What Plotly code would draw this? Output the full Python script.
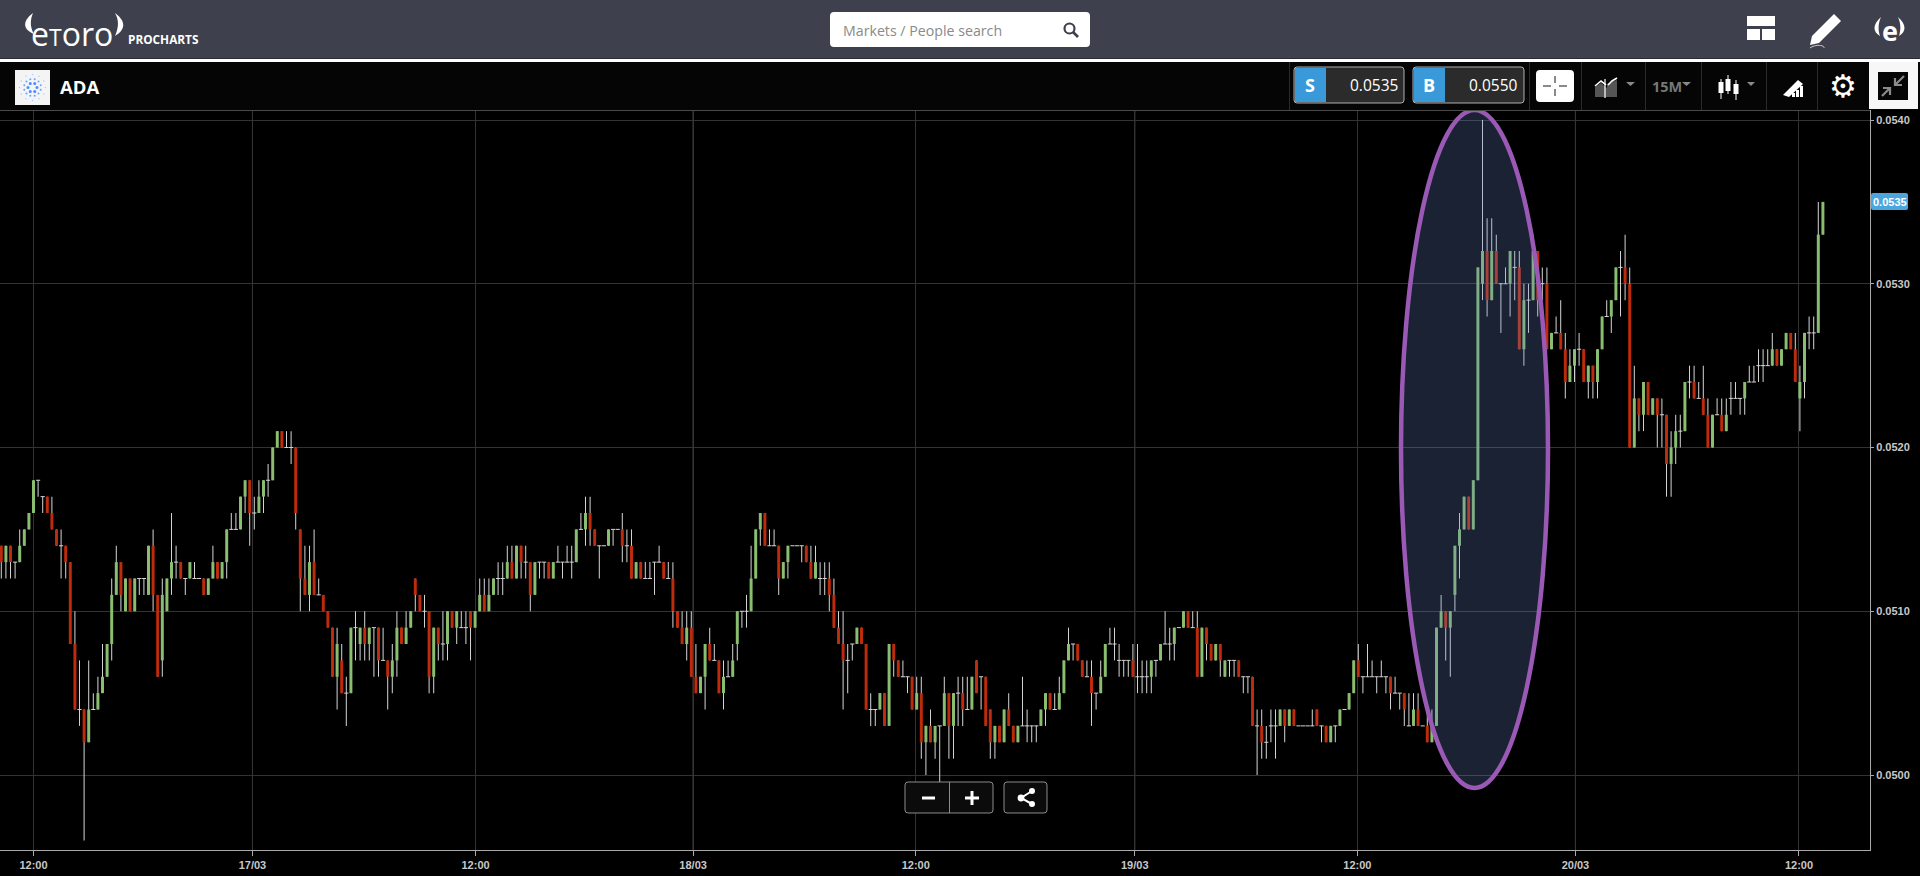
import math
import re

import plotly.graph_objects as go

WIDTH = 1920
HEIGHT = 876

# candle prices, in 1/10000 of a dollar, one per 15 minute bar
open_vals = [
    514, 513, 514, 513, 513, 514, 515,
    516, 518, 517, 517, 516, 515, 514, 514, 513, 508,
    504, 504, 502, 504, 504, 505, 506, 508, 511, 513,
    510, 512, 510, 512, 512, 511, 514, 511, 507, 510,
    512, 513, 513, 512, 512, 512, 512, 512, 511, 512,
    513, 512, 513, 515, 515, 515, 517, 518, 516, 516,
    517, 518, 518, 520, 521, 520, 520, 520, 515, 512,
    511, 513, 511, 511, 510, 509, 506, 507, 505, 505,
    509, 508, 509, 508, 509, 509, 507, 507, 506, 507,
    509, 508, 509, 512, 511, 510, 510, 506, 509, 508,
    508, 510, 509, 509, 509, 510, 509, 510, 511, 510,
    511, 512, 512, 512, 513, 512, 514, 513, 513, 511,
    513, 513, 513, 512, 513, 513, 513, 513, 513, 515,
    515, 516, 515, 514, 514, 514, 515, 515, 515, 514,
    514, 512, 513, 512, 512, 513, 513, 513, 512, 512,
    510, 509, 508, 509, 506, 505, 506, 508, 507, 507,
    505, 506, 506, 508, 510, 510, 510, 512, 515, 516,
    514, 514, 514, 512, 513, 514, 514, 514, 514, 513,
    512, 512, 512, 512, 511, 509, 508, 507, 508, 508,
    509, 508, 504, 504, 504, 505, 503, 508, 507, 506,
    506, 506, 504, 505, 502, 503, 502, 503, 503, 505,
    503, 505, 505, 504, 504, 507, 506, 506, 504, 502,
    503, 502, 504, 503, 502, 503, 503, 503, 503, 503,
    504, 505, 504, 504, 505, 507, 508, 508, 507, 506,
    506, 505, 505, 506, 508, 508, 507, 507, 507, 507,
    506, 506, 506, 506, 507, 507, 508, 508, 508, 509,
    509, 510, 509, 509, 506, 509, 508, 507, 508, 506,
    507, 507, 507, 506, 506, 506, 503, 503, 502, 503,
    503, 503, 504, 503, 504, 503, 503, 503, 503, 504,
    503, 503, 502, 503, 503, 504, 504, 505, 507, 506,
    506, 506, 506, 506, 506, 506, 505, 505, 505, 503,
    503, 504, 503, 503, 502, 503, 509, 510, 509, 511,
    514, 515, 517, 515, 518, 530, 532, 529, 532, 530,
    530, 530, 531, 531, 526, 529, 529, 532, 530, 530,
    526, 527, 527, 526, 524, 525, 526, 526, 524, 525,
    524, 526, 528, 528, 529, 531, 531, 530, 520, 523,
    522, 524, 522, 523, 522, 522, 519, 520, 521, 521,
    524, 524, 523, 523, 522, 520, 522, 522, 521, 523,
    523, 523, 523, 524, 524, 525, 525, 525, 525, 526,
    525, 526, 527, 526, 523, 524, 527, 527, 527, 533,
]
close_vals = [
    513, 514, 513, 513, 514, 515, 516,
    518, 518, 517, 516, 515, 514, 514, 513, 508, 504,
    504, 502, 504, 504, 505, 506, 508, 511, 513, 511,
    512, 510, 512, 512, 512, 514, 511, 506, 511, 512,
    513, 513, 512, 512, 513, 512, 512, 511, 512, 513,
    512, 513, 515, 515, 515, 517, 518, 516, 516, 517,
    518, 518, 520, 521, 520, 520, 520, 516, 512, 511,
    513, 511, 511, 510, 509, 506, 508, 505, 505, 509,
    509, 509, 508, 509, 509, 507, 507, 506, 507, 509,
    508, 509, 510, 511, 510, 510, 506, 509, 508, 508,
    510, 509, 510, 509, 509, 509, 510, 511, 510, 511,
    512, 512, 512, 513, 512, 514, 513, 513, 511, 513,
    513, 513, 512, 513, 513, 513, 513, 513, 515, 515,
    516, 515, 514, 514, 514, 515, 515, 515, 514, 514,
    512, 513, 512, 512, 512, 513, 513, 512, 512, 510,
    509, 508, 509, 506, 505, 506, 508, 507, 507, 505,
    506, 506, 507, 510, 510, 510, 512, 515, 516, 514,
    514, 514, 512, 513, 514, 514, 514, 514, 513, 512,
    513, 512, 512, 511, 509, 508, 507, 507, 508, 509,
    508, 504, 504, 504, 505, 503, 508, 507, 506, 506,
    506, 504, 505, 502, 503, 502, 503, 503, 505, 503,
    505, 505, 504, 504, 506, 505, 506, 503, 502, 503,
    502, 504, 503, 502, 503, 503, 503, 503, 503, 504,
    505, 504, 504, 505, 507, 508, 508, 507, 506, 506,
    505, 505, 506, 508, 508, 508, 507, 507, 507, 506,
    506, 506, 506, 507, 507, 508, 508, 508, 509, 509,
    510, 509, 509, 506, 509, 508, 507, 508, 507, 507,
    507, 507, 506, 506, 506, 503, 503, 502, 502, 503,
    503, 504, 503, 504, 503, 503, 503, 503, 503, 503,
    503, 502, 503, 503, 504, 504, 505, 507, 506, 506,
    506, 506, 506, 506, 506, 505, 505, 505, 504, 503,
    504, 503, 503, 502, 503, 509, 510, 509, 510, 514,
    515, 517, 515, 518, 531, 532, 529, 532, 530, 530,
    530, 532, 531, 526, 529, 529, 532, 529, 530, 526,
    527, 527, 526, 524, 525, 526, 526, 524, 525, 524,
    526, 528, 528, 529, 531, 531, 530, 520, 523, 522,
    524, 522, 523, 522, 522, 519, 520, 521, 521, 524,
    524, 523, 523, 522, 520, 522, 522, 521, 522, 523,
    523, 523, 524, 524, 524, 525, 525, 525, 526, 525,
    526, 527, 526, 524, 524, 527, 527, 527, 533, 535,
]
high_vals = [
    514, 514, 514, 513, 515, 515, 516,
    518, 518, 517, 517, 517, 515, 515, 514, 513, 510,
    507, 504, 507, 505, 506, 508, 508, 512, 514, 513,
    512, 512, 512, 512, 512, 514, 515, 511, 512, 512,
    516, 514, 513, 512, 513, 513, 512, 512, 512, 514,
    513, 513, 515, 516, 516, 517, 518, 518, 517, 518,
    518, 519, 520, 521, 521, 521, 521, 520, 515, 514,
    514, 515, 512, 511, 510, 509, 509, 508, 506, 509,
    510, 509, 510, 509, 509, 509, 509, 507, 508, 510,
    509, 510, 510, 512, 511, 511, 510, 509, 509, 510,
    510, 510, 510, 510, 510, 510, 510, 512, 512, 512,
    512, 513, 513, 514, 514, 514, 514, 514, 513, 513,
    513, 513, 513, 513, 514, 513, 514, 514, 515, 516,
    517, 517, 515, 514, 514, 515, 515, 515, 516, 515,
    515, 513, 513, 513, 513, 513, 514, 513, 513, 513,
    510, 510, 510, 510, 508, 506, 508, 509, 508, 507,
    507, 507, 508, 510, 510, 511, 514, 515, 516, 516,
    515, 515, 514, 513, 514, 514, 514, 514, 514, 514,
    514, 513, 513, 513, 512, 510, 510, 508, 508, 509,
    509, 508, 505, 504, 505, 505, 508, 508, 507, 507,
    506, 506, 506, 506, 503, 504, 503, 503, 506, 505,
    505, 506, 506, 506, 506, 507, 506, 506, 504, 503,
    503, 504, 505, 503, 503, 506, 504, 503, 503, 504,
    505, 505, 505, 506, 507, 509, 508, 508, 507, 507,
    507, 505, 507, 508, 509, 509, 508, 507, 507, 508,
    508, 507, 507, 507, 507, 508, 510, 509, 509, 509,
    510, 510, 510, 510, 509, 509, 508, 508, 508, 507,
    507, 507, 507, 506, 506, 506, 504, 504, 503, 504,
    504, 504, 504, 504, 504, 503, 503, 503, 504, 504,
    503, 503, 503, 503, 504, 504, 505, 507, 508, 506,
    508, 507, 506, 507, 506, 506, 506, 505, 505, 505,
    505, 505, 503, 504, 504, 509, 511, 510, 510, 514,
    516, 517, 517, 518, 531, 540, 534, 534, 533, 530,
    531, 532, 532, 532, 530, 530, 533, 532, 531, 531,
    527, 528, 529, 527, 526, 526, 527, 526, 525, 525,
    526, 528, 529, 529, 531, 532, 533, 531, 525, 523,
    524, 524, 523, 523, 523, 522, 521, 522, 522, 524,
    525, 525, 524, 525, 523, 522, 523, 523, 523, 524,
    524, 523, 524, 525, 525, 526, 526, 526, 527, 526,
    526, 527, 527, 527, 525, 527, 528, 528, 535, 535,
]
low_vals = [
    512, 512, 512, 512, 513, 514, 515,
    516, 517, 516, 516, 515, 514, 512, 512, 508, 504,
    503, 496, 502, 504, 504, 505, 506, 507, 511, 510,
    510, 510, 510, 511, 511, 511, 510, 506, 506, 510,
    511, 512, 512, 511, 512, 512, 512, 511, 511, 512,
    512, 512, 512, 515, 515, 515, 516, 514, 515, 516,
    516, 517, 518, 520, 520, 520, 519, 515, 510, 511,
    510, 511, 511, 510, 509, 506, 504, 505, 503, 505,
    507, 507, 507, 507, 506, 506, 507, 504, 505, 506,
    508, 508, 509, 510, 510, 509, 505, 505, 507, 507,
    507, 509, 508, 509, 508, 507, 509, 510, 510, 510,
    511, 511, 511, 512, 512, 512, 512, 512, 510, 511,
    512, 512, 512, 512, 513, 512, 513, 512, 513, 515,
    514, 514, 514, 512, 514, 514, 514, 515, 513, 513,
    512, 512, 512, 512, 512, 511, 513, 512, 512, 509,
    509, 508, 507, 506, 505, 505, 504, 507, 507, 505,
    504, 506, 506, 507, 509, 509, 510, 512, 514, 514,
    514, 514, 511, 512, 512, 514, 514, 513, 513, 512,
    512, 511, 511, 510, 509, 508, 504, 505, 507, 508,
    508, 504, 503, 503, 504, 503, 503, 506, 506, 506,
    505, 504, 504, 501, 500, 502, 501, 499, 503, 501,
    501, 503, 503, 504, 504, 505, 504, 503, 501, 501,
    502, 502, 503, 502, 502, 503, 502, 502, 502, 503,
    503, 504, 504, 504, 505, 507, 507, 507, 506, 506,
    503, 504, 505, 506, 508, 507, 506, 506, 506, 506,
    505, 505, 505, 505, 506, 507, 508, 507, 507, 509,
    509, 509, 509, 506, 506, 507, 507, 507, 506, 506,
    506, 506, 506, 505, 505, 503, 500, 501, 501, 502,
    501, 503, 502, 503, 503, 503, 503, 503, 503, 503,
    502, 502, 502, 502, 503, 504, 504, 505, 506, 505,
    506, 506, 505, 506, 505, 504, 505, 504, 503, 503,
    503, 503, 503, 502, 502, 503, 509, 507, 506, 510,
    512, 515, 515, 515, 518, 529, 528, 529, 530, 527,
    530, 528, 529, 526, 525, 527, 529, 528, 529, 526,
    526, 527, 526, 523, 524, 524, 525, 524, 523, 523,
    523, 526, 528, 527, 529, 528, 529, 520, 520, 521,
    521, 522, 522, 520, 520, 517, 517, 519, 520, 521,
    523, 523, 523, 522, 520, 520, 522, 521, 521, 522,
    523, 522, 522, 524, 524, 524, 524, 525, 525, 525,
    525, 526, 526, 524, 521, 523, 526, 526, 527, 533,
]
first_bar = -7

tick_positions = [0, 47.6, 96.1, 143.4, 191.8, 239.4, 287.8, 335.2, 383.8]
tick_labels = ["12:00", "17/03", "12:00", "18/03", "12:00", "19/03", "12:00", "20/03", "12:00"]
price_ticks = [0.0500, 0.0510, 0.0520, 0.0530, 0.0540]

sell_price = "0.0535"
buy_price = "0.0550"
last_price = "0.0535"

# alpha just under 1 so plotly rounds bar edges instead of widening them
GREEN = "rgba(138,190,112,0.99)"
RED = "rgba(189,42,10,0.99)"
WICK = "rgba(212,212,212,0.99)"
AXIS_FONT = dict(family="Liberation Sans", size=11, color="#c8c8c8")

# pixel layout of the plot area
PLOT_LEFT, PLOT_RIGHT, PLOT_TOP, PLOT_BOTTOM = 0, 1870, 110, 850
PX_PER_BAR = 4.6
PX_ZERO_BAR = 33.5
PX_PER_PRICE = 163.75 / 0.001


def bar_at(px):
    return (px - PX_ZERO_BAR) / PX_PER_BAR


def price_at(py):
    return 0.054 - (py - 120) / PX_PER_PRICE


def fx(px):
    return px / WIDTH


def fy(py):
    return 1 - py / HEIGHT


def pth(d):
    # path written in screen pixels -> paper coordinates
    out, is_x = [], True
    for tok in re.findall(r"[A-Za-z]|-?[\d.]+", d):
        if tok.isalpha():
            out.append(tok)
            is_x = True
        else:
            out.append(f"{fx(float(tok)):.5f}" if is_x else f"{fy(float(tok)):.5f}")
            is_x = not is_x
    return " ".join(out)


shapes = []
notes = []


def rect(x0, y0, x1, y1, fill, line=None):
    shapes.append(dict(type="rect", xref="paper", yref="paper", x0=fx(x0), x1=fx(x1), y0=fy(y1), y1=fy(y0),
                       fillcolor=fill, line=dict(width=1 if line else 0, color=line or fill), layer="above"))


def rrect(x0, y0, x1, y1, r, fill, line=None):
    d = (f"M {x0 + r} {y0} L {x1 - r} {y0} Q {x1} {y0} {x1} {y0 + r} L {x1} {y1 - r} Q {x1} {y1} {x1 - r} {y1} "
         f"L {x0 + r} {y1} Q {x0} {y1} {x0} {y1 - r} L {x0} {y0 + r} Q {x0} {y0} {x0 + r} {y0} Z")
    path(d, fill, line)


def path(d, fill=None, line=None, width=1):
    shapes.append(dict(type="path", xref="paper", yref="paper", path=pth(d), fillcolor=fill or "rgba(0,0,0,0)",
                       line=dict(width=width if line else 0, color=line or "rgba(0,0,0,0)"), layer="above"))


def circle(cx, cy, r, fill=None, line=None, width=1):
    shapes.append(dict(type="circle", xref="paper", yref="paper", x0=fx(cx - r), x1=fx(cx + r), y0=fy(cy + r),
                       y1=fy(cy - r), fillcolor=fill or "rgba(0,0,0,0)",
                       line=dict(width=width if line else 0, color=line or "rgba(0,0,0,0)"), layer="above"))


def label(x, y, text, size, color="#ffffff", family="Open Sans", anchor="center"):
    notes.append(dict(xref="paper", yref="paper", x=fx(x), y=fy(y), text=text, showarrow=False, xanchor=anchor,
                      yanchor="middle", font=dict(family=family, size=size, color=color)))


def caret(x0, x1, y0, y1, color="#8a8a8a"):
    path(f"M {x0} {y0} L {x1} {y0} L {(x0 + x1) / 2} {y1} Z", color)


bar_index = list(range(first_bar, first_bar + len(open_vals)))

body_x, body_base, body_height, body_color = [], [], [], []
doji_x, doji_y = [], []
for i, o, c in zip(bar_index, open_vals, close_vals):
    if o == c:
        doji_x.append(i)
        doji_y.append(o / 10000)
    else:
        body_x.append(i)
        body_base.append(min(o, c) / 10000)
        body_height.append(abs(c - o) / 10000)
        body_color.append(GREEN if c > o else RED)

fig = go.Figure()
fig.add_trace(go.Bar(
    x=bar_index,
    base=[v / 10000 for v in low_vals],
    y=[(h - l) / 10000 for h, l in zip(high_vals, low_vals)],
    width=0.22,
    marker=dict(color=WICK, line=dict(width=0)),
    hoverinfo="skip",
    showlegend=False,
))
fig.add_trace(go.Scatter(
    x=doji_x,
    y=doji_y,
    mode="markers",
    marker=dict(symbol="line-ew", size=3, line=dict(width=1, color="#d4d4d4")),
    hoverinfo="skip",
    showlegend=False,
))
fig.add_trace(go.Bar(
    x=body_x,
    base=body_base,
    y=body_height,
    width=0.65,
    marker=dict(color=body_color, line=dict(width=0)),
    hoverinfo="skip",
    showlegend=False,
))

# day separators are a bit brighter than the 12:00 lines
for pos, text in zip(tick_positions, tick_labels):
    if "/" in text:
        shapes.append(dict(type="line", xref="x", yref="paper", x0=pos, x1=pos, y0=fy(PLOT_BOTTOM), y1=fy(PLOT_TOP),
                           line=dict(color="#555555", width=1), layer="below"))

# highlighted pump
shapes.append(dict(type="circle", xref="x", yref="y", x0=bar_at(1401), x1=bar_at(1548), y0=price_at(788),
                   y1=price_at(110), fillcolor="rgba(100,131,196,0.26)", line=dict(color="#9b59b6", width=4.5),
                   layer="above"))

# header bar
rect(0, 0, 1920, 58, "#3e414d")
rect(0, 58, 1920, 59, "#2a2c33")
rect(0, 59, 1920, 62, "#ffffff")
rect(0, 62, 1920, 110, "#050505")
rect(0, 110, 1870, 111, "#4a4a4a")

# logo
label(72, 33, 'e<span style="font-size:23px">T</span>oro', 32, family="Open Sans")
path("M 33 13 C 21 22 24 30 34 34 C 30 27 30 20 33 13 Z", "#ffffff")
path("M 115 13 C 127 22 125 30 115 36 C 119 27 119 20 115 13 Z", "#ffffff")
label(126, 39, "<b>PROCHARTS</b>", 11.8, anchor="left")

# search box
rrect(830, 12, 1090, 47, 4, "#ffffff")
label(841, 30, "Markets / People search", 14.2, "#8a8a8a", anchor="left")
circle(1069.5, 28.5, 5, None, "#3e414d", 2.2)
path("M 1073 32 L 1078 37", None, "#3e414d", 2.6)

# header icons
rect(1747, 16, 1775, 26, "#ffffff")
rect(1747, 29, 1760, 40, "#ffffff")
rect(1762, 29, 1775, 40, "#ffffff")
path("M 1812 36 L 1834 14 L 1841 21 L 1819 43 L 1810 45 Z", "#ffffff")
path("M 1810 48 C 1815 44 1825 45 1824 48", None, "#cccccc", 1)
label(1889.5, 30, "<b>e</b>", 27)
path("M 1881 17 C 1872 25 1873 32 1880 36 C 1878 30 1878 24 1881 17 Z", "#ffffff")
path("M 1898 17 C 1907 25 1906 32 1899 36 C 1901 30 1901 24 1898 17 Z", "#ffffff")

# instrument
rect(15, 70, 50, 105, "#f4f4f4")
for n, (radius, count, size, colour) in enumerate([(4.5, 6, 1.5, "#4a8cff"), (8.5, 12, 1.0, "#6aa2ff"),
                                                   (13, 12, 0.7, "#a9c8ff")]):
    for k in range(count):
        ang = 2 * math.pi * (k + 0.5 * (n % 2)) / count
        circle(32.5 + radius * math.cos(ang), 87.5 + radius * math.sin(ang), size, colour)
label(58, 86, "<b>ADA</b>", 18.5, anchor="left")

# toolbar
for sep in [1289, 1529, 1581, 1645, 1701, 1766, 1817]:
    rect(sep, 62, sep + 1, 110, "#2a2a2a")
for x0, x1, split, letter, value in [(1294, 1404, 1326, "S", sell_price), (1413, 1524, 1445, "B", buy_price)]:
    rrect(x0, 67, x1, 103, 3, "#2b2b2b", "#b0b0b0")
    rect(x0 + 1, 68, split, 102, "#3a9ad9")
    label((x0 + split) / 2, 85, f"<b>{letter}</b>", 18)
    label(x1 - 4, 85, value, 15.5, "#ffffff", anchor="right")

rrect(1536, 70, 1574, 102, 4, "#ffffff")
for d in ["M 1555 76 L 1555 83", "M 1555 89 L 1555 96", "M 1543 86 L 1551 86", "M 1559 86 L 1567 86"]:
    path(d, None, "#8a8a8a", 2)

path("M 1595 97 L 1595 87 L 1601 83 L 1607 88 L 1607 97 Z", "#555555")
path("M 1607 97 L 1607 84 L 1617 80 L 1617 97 Z", "#555555")
path("M 1595 86 L 1601 81 L 1606 85", None, "#ffffff", 1.6)
path("M 1608 85 L 1612 81 L 1617 78", None, "#ffffff", 1.6)
path("M 1605 79 L 1605 98", None, "#ffffff", 1.2)
caret(1626, 1635, 82, 86)
label(1667, 87, "<b>15M</b>", 14.5, "#777777")
caret(1682, 1691, 82, 86)
for cx, top, b0, b1, bot in [(1721, 79, 82, 93, 99), (1728, 75, 79, 91, 94), (1736, 80, 84, 94, 100)]:
    rect(cx - 0.5, top, cx + 0.5, bot, "#ffffff")
    rect(cx - 2.5, b0, cx + 2.5, b1, "#ffffff")
caret(1747, 1755, 82, 86)
path("M 1783 95 L 1798 80 L 1803 84 L 1789 97 Z", "#ffffff")
rect(1792, 93, 1795, 97, "#ffffff")
rect(1796, 90, 1799, 97, "#ffffff")
rect(1800, 86, 1803, 97, "#ffffff")
label(1843, 86, "⚙", 31, family="DejaVu Sans")
rect(1869, 62, 1918, 109, "#f7f7f7")
rect(1878, 72, 1908, 100, "#050505")
path("M 1904 76 L 1895 85 M 1895 78 L 1895 85 L 1902 85", None, "#8a8a8a", 2.2)
path("M 1882 96 L 1890 88 M 1883 88 L 1890 88 L 1890 95", None, "#8a8a8a", 2.2)

# last price tag
rrect(1871, 193, 1908, 210, 2, "#4aa6de")
label(1889.5, 201.5, f"<b>{last_price}</b>", 11, "#ffffff", family="Liberation Sans")

# zoom and share buttons
rrect(905, 782, 993, 813, 3, "#0b0b0b", "#8c8c8c")
rect(949, 782, 950, 813, "#8c8c8c")
rect(922, 796.5, 935, 799.5, "#ffffff")
rect(965, 796.5, 979, 799.5, "#ffffff")
rect(970.5, 791, 973.5, 805, "#ffffff")
rrect(1004, 782, 1047, 813, 3, "#0b0b0b", "#8c8c8c")
path("M 1032 791 L 1021 798 L 1032 804", None, "#ffffff", 2)
circle(1021, 798, 3.4, "#ffffff")
circle(1032, 791, 3, "#ffffff")
circle(1032, 804, 3, "#ffffff")

fig.update_layout(
    width=WIDTH,
    height=HEIGHT,
    margin=dict(l=0, r=0, t=0, b=0),
    paper_bgcolor="#000000",
    plot_bgcolor="#000000",
    barmode="overlay",
    showlegend=False,
    shapes=shapes,
    annotations=notes,
    xaxis=dict(
        domain=[fx(PLOT_LEFT), fx(PLOT_RIGHT)],
        range=[bar_at(PLOT_LEFT), bar_at(PLOT_RIGHT)],
        tickmode="array",
        tickvals=tick_positions,
        ticktext=[f"<b>{t}</b>" for t in tick_labels],
        tickfont=AXIS_FONT,
        ticks="outside",
        ticklen=5,
        tickcolor="#aaaaaa",
        showgrid=True,
        gridcolor="#333333",
        gridwidth=1,
        showline=True,
        linecolor="#aaaaaa",
        zeroline=False,
    ),
    yaxis=dict(
        domain=[fy(PLOT_BOTTOM), fy(PLOT_TOP)],
        range=[price_at(PLOT_BOTTOM), price_at(PLOT_TOP)],
        side="right",
        tickmode="array",
        tickvals=price_ticks,
        ticktext=[f"<b>{p:.4f}</b>" for p in price_ticks],
        tickfont=AXIS_FONT,
        ticks="outside",
        ticklen=3,
        tickcolor="#aaaaaa",
        showgrid=True,
        gridcolor="#333333",
        gridwidth=1,
        showline=True,
        linecolor="#aaaaaa",
        zeroline=False,
    ),
)

fig.write_html(
    "out.html",
    config={"displayModeBar": False},
    post_script="document.body.style.margin='0';document.body.style.background='#000'",
)
